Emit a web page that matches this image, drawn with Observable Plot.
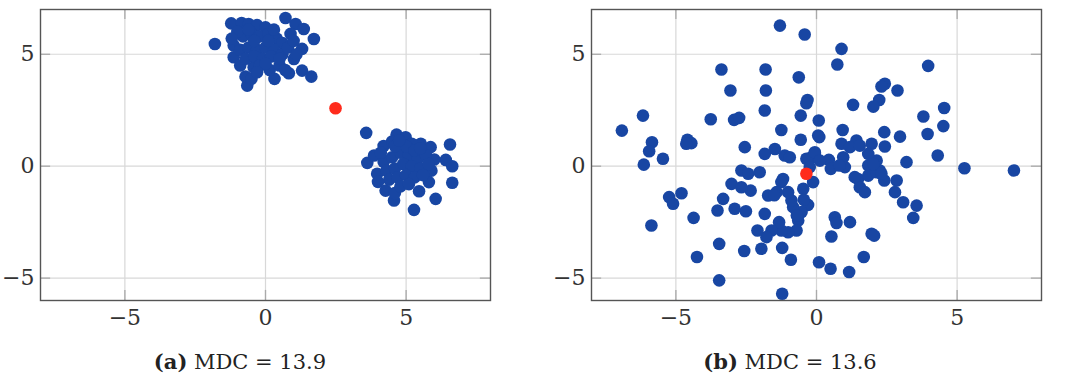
<!DOCTYPE html>
<html>
<head>
<meta charset="utf-8">
<script src="https://cdn.jsdelivr.net/npm/d3@7"></script>
<script src="https://cdn.jsdelivr.net/npm/@observablehq/plot@0.6"></script>
<style>
  body { margin: 0; background: #fff; }
  #wrap { position: relative; width: 1068px; height: 381px; }
  .panel { position: absolute; top: 0; }
  .cap { position: absolute; top: 349px; font-family: 'DejaVu Serif', serif; font-size: 21px; color: #222; transform: translateX(-50%); white-space: nowrap; }
</style>
</head>
<body>
<div id="wrap"></div>
<script>
// ---- data ----
const xTicks = [-5, 0, 5];
const yTicks = [-5, 0, 5];
const xDomain = [-8, 8];
const yDomain = [-6, 7];

// Panel (a): upper-left cluster
const panelA_cluster1 = [
  [-1.80,5.46],[-1.22,6.38],[-0.85,6.40],[-0.60,6.35],[-0.30,6.30],[0.00,6.20],[0.71,6.62],[1.07,6.35],
  [1.36,6.13],[1.72,5.68],[0.89,5.91],[1.30,5.24],[1.01,4.79],[1.30,4.27],[1.63,4.00],[0.83,4.15],
  [0.32,3.90],[-0.65,3.60],[-0.71,4.00],[-1.13,4.87],[-1.13,5.39],[-0.42,4.42],[0.15,4.30],[0.50,4.50],
  [-0.90,4.50],[-0.50,3.90],[-0.80,5.80],[-0.50,5.90],[-0.20,5.80],[0.10,5.90],[0.40,5.70],[0.60,5.50],
  [-0.90,5.20],[-0.60,5.30],[-0.30,5.20],[0.00,5.30],[0.30,5.20],[0.60,5.00],[-0.70,4.80],[-0.40,4.90],
  [-0.10,4.80],[0.20,4.90],[0.50,4.80],[-0.20,4.50],[0.10,5.60],[-0.40,5.60],[0.80,5.30],[1.00,5.60],
  [-1.00,6.00],[0.30,6.10],[-0.60,6.10],[0.00,4.60],[0.70,4.30],[-0.30,4.20],[1.10,5.00],[-1.20,5.70]
];
// Panel (a): lower-right cluster
const panelA_cluster2 = [
  [3.58,1.49],[4.66,1.41],[4.98,1.29],[5.52,1.00],[5.87,0.85],[6.56,0.97],[6.41,0.28],[6.64,0.00],
  [6.64,-0.74],[6.05,-1.46],[5.28,-1.95],[5.46,-1.12],[4.57,-1.53],[4.27,-1.09],[5.81,-0.71],[3.62,0.15],
  [3.86,0.48],[3.97,-0.34],[4.20,0.90],[4.50,1.10],[5.20,1.00],[6.00,0.30],[5.90,-0.20],[4.60,-1.20],
  [4.20,0.20],[4.50,0.40],[4.80,0.60],[5.10,0.50],[5.40,0.30],[5.70,0.50],[4.30,-0.20],[4.60,-0.10],
  [4.90,0.10],[5.20,0.00],[5.50,-0.10],[5.80,0.10],[4.40,-0.60],[4.70,-0.50],[5.00,-0.40],[5.30,-0.50],
  [5.60,-0.40],[4.80,-0.90],[5.10,-0.80],[4.60,0.90],[5.00,0.90],[5.30,0.70],[4.10,0.60],[4.00,-0.70],
  [5.50,0.80],[4.75,1.15]
];
const panelA_center = [[2.49, 2.59]];

// Panel (b): scattered points
const panelB_points = [
  [-6.92,1.59],[-6.17,2.26],[-5.85,1.07],[-5.95,0.67],[-6.14,0.07],[-5.46,0.33],[-4.59,1.18],[-4.45,1.03],
  [-4.63,1.00],[-3.76,2.10],[-3.38,4.32],[-3.06,3.38],[-2.93,2.07],[-2.75,2.16],[-1.81,4.32],[-1.80,3.38],
  [-1.84,2.49],[-1.30,6.28],[-0.42,5.88],[-0.63,3.97],[-0.32,2.96],[-0.36,2.81],[-0.56,2.26],[-1.25,1.62],
  [-0.56,1.18],[0.08,2.04],[0.06,1.37],[0.89,5.24],[0.74,4.54],[1.30,2.74],[0.93,1.62],[3.97,4.48],
  [2.43,3.68],[2.31,3.56],[2.88,3.38],[2.23,2.96],[2.02,2.66],[3.80,2.22],[4.54,2.60],[4.51,1.79],
  [3.95,1.44],[2.41,1.52],[2.97,1.32],[4.31,0.48],[5.26,-0.09],[7.02,-0.19],[3.20,0.18],[1.42,1.15],
  [0.89,1.00],[1.96,1.00],[2.43,0.88],[1.19,0.85],[1.54,0.92],[-2.55,0.85],[-1.84,0.55],[-1.48,0.77],
  [-1.13,0.48],[-0.95,0.40],[-0.06,0.55],[-0.18,0.40],[0.44,0.28],[0.51,-0.12],[1.01,-0.04],[0.95,0.40],
  [1.84,0.03],[2.14,0.25],[2.25,-0.19],[2.41,-0.64],[2.85,-0.64],[1.48,-0.57],[1.54,-0.94],[1.72,-1.16],
  [1.84,-0.42],[2.79,-1.16],[3.08,-1.61],[3.56,-1.76],[3.44,-2.31],[1.96,-3.02],[2.05,-3.10],[1.19,-2.50],
  [0.65,-2.28],[0.71,-2.54],[0.53,-3.14],[1.68,-4.06],[1.16,-4.73],[0.50,-4.58],[0.09,-4.29],[-0.12,-0.71],
  [-0.47,-1.01],[-0.30,-1.73],[-0.53,-2.05],[-0.65,-2.43],[-0.71,-2.87],[-1.01,-2.95],[-1.25,-2.87],[-0.83,-1.83],
  [-0.89,-1.53],[-1.01,-1.16],[-1.19,-0.57],[-1.25,-0.71],[-1.42,-1.16],[-1.72,-1.31],[-1.84,-2.13],[-1.33,-2.50],
  [-1.60,-2.87],[-1.78,-3.17],[-2.10,-2.87],[-1.96,-3.69],[-2.57,-3.79],[-2.51,-2.01],[-2.91,-1.90],[-3.02,-0.79],
  [-2.67,-0.19],[-2.43,-0.34],[-2.34,-1.09],[-2.67,-0.94],[-2.02,-0.27],[-3.32,-1.46],[-3.52,-1.98],[-3.46,-3.47],
  [-3.46,-5.10],[-1.22,-5.70],[-1.22,-3.65],[-0.91,-4.18],[-4.25,-4.06],[-4.37,-2.31],[-4.80,-1.21],[-5.24,-1.38],
  [-5.10,-1.68],[-5.87,-2.65],[-0.36,0.33],[-0.06,0.62],[0.12,0.25],[-0.24,-0.04],[0.81,0.03],[1.36,-0.49],
  [2.14,-0.27],[2.31,-0.34],[-1.50,-1.30],[1.84,0.55],[2.02,0.10],[0.10,1.30],[-0.70,-2.20],[-0.45,-1.50]
];
const panelB_center = [[-0.36, -0.34]];

const captions = [
  {label: "(a)", text: " MDC = 13.9"},
  {label: "(b)", text: " MDC = 13.6"}
];

// ---- styling ----
const BLUE = "#1846a3";
const RED = "#ff2b1c";
const FONT = "'DejaVu Serif', serif";

function makePanel(points, center, opts) {
  const tickLenX = 0.36, tickLenY = 0.45;
  return Plot.plot({
    width: opts.width,
    height: 340,
    marginLeft: opts.marginLeft,
    marginRight: 10,
    marginTop: 9,
    marginBottom: 40,
    style: {fontFamily: FONT, fontSize: "22px", background: "#fff"},
    x: {domain: xDomain, label: null},
    y: {domain: yDomain, label: null},
    marks: [
      Plot.gridX(xTicks, {stroke: "#d8d8d8", strokeOpacity: 1, strokeWidth: 1.2}),
      Plot.gridY(yTicks, {stroke: "#d8d8d8", strokeOpacity: 1, strokeWidth: 1.2}),
      // inward tick marks on all four sides
      Plot.ruleY(yTicks, {x1: xDomain[0], x2: xDomain[0] + tickLenX, stroke: "#aaa", strokeWidth: 1.3}),
      Plot.ruleY(yTicks, {x1: xDomain[1] - tickLenX, x2: xDomain[1], stroke: "#aaa", strokeWidth: 1.3}),
      Plot.ruleX(xTicks, {y1: yDomain[0], y2: yDomain[0] + tickLenY, stroke: "#aaa", strokeWidth: 1.3}),
      Plot.ruleX(xTicks, {y1: yDomain[1] - tickLenY, y2: yDomain[1], stroke: "#aaa", strokeWidth: 1.3}),
      Plot.axisX(xTicks, {tickSize: 0, tickPadding: 9, fontSize: 22, fill: "#333", label: null}),
      Plot.axisY(yTicks, {tickSize: 0, tickPadding: 6, fontSize: 22, fill: "#333", label: null}),
      Plot.dot(points, {x: d => d[0], y: d => d[1], r: 6.3, fill: BLUE, stroke: "none"}),
      Plot.dot(center, {x: d => d[0], y: d => d[1], r: 6.3, fill: RED, stroke: "none"}),
      Plot.frame({stroke: "#555", strokeWidth: 1.4})
    ]
  });
}

const wrap = document.getElementById("wrap");

const p1 = makePanel(panelA_cluster1.concat(panelA_cluster2), panelA_center, {width: 500, marginLeft: 40});
p1.classList.add("panel"); p1.style.left = "0px";
wrap.appendChild(p1);

const p2 = makePanel(panelB_points, panelB_center, {width: 517, marginLeft: 57});
p2.classList.add("panel"); p2.style.left = "534px";
wrap.appendChild(p2);

[240, 790].forEach((cx, i) => {
  const d = document.createElement("div");
  d.className = "cap";
  d.style.left = cx + "px";
  const b = document.createElement("b");
  b.textContent = captions[i].label;
  d.appendChild(b);
  d.appendChild(document.createTextNode(captions[i].text));
  wrap.appendChild(d);
});
</script>
</body>
</html>
